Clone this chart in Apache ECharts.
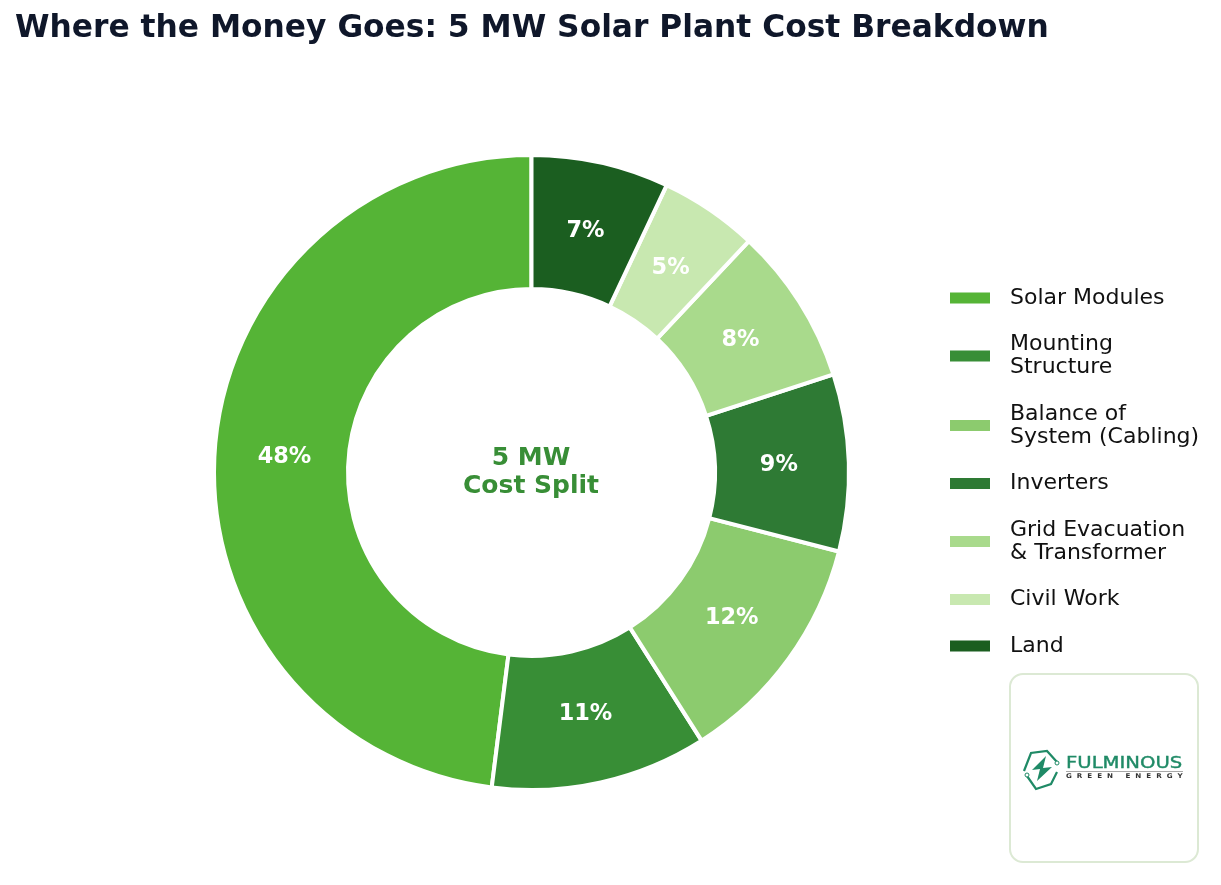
<!DOCTYPE html>
<html>
<head>
<meta charset="utf-8">
<title>5 MW Solar Plant Cost Breakdown</title>
<style>
  html, body { margin: 0; padding: 0; background: #ffffff; }
  #chart { width: 1221px; height: 885px; }
</style>
<script src="https://cdn.jsdelivr.net/npm/echarts@6/dist/echarts.min.js"></script>
</head>
<body>
<div id="chart"></div>
<script>
  const chartTitle = 'Where the Money Goes: 5 MW Solar Plant Cost Breakdown';
  const centerCaption = '5 MW\nCost Split';
  const categories = [
    'Solar Modules',
    'Mounting\nStructure',
    'Balance of\nSystem (Cabling)',
    'Inverters',
    'Grid Evacuation\n& Transformer',
    'Civil Work',
    'Land'
  ];
  const shares = [48, 11, 12, 9, 8, 5, 7];
  const sliceColors = ['#55b436', '#388e36', '#8ccb6e', '#2e7a34', '#a9da8c', '#c8e8b0', '#1b5e20'];

  const font = '"DejaVu Sans", sans-serif';
  const logoGreen = '#1f8a66';
  const pieCenter = [531.5, 472.5];
  const labelInset = 6;

  // Caption in the hole of the ring.
  const caption = {
    type: 'text', x: 531, y: 472.5,
    style: { text: centerCaption, font: 'bold 25px "DejaVu Sans", sans-serif', fill: '#388e36',
             textAlign: 'center', textVerticalAlign: 'middle', lineHeight: 28 }
  };

  // Company mark: hexagon outline with circuit dots, a bolt, and the wordmark.
  const logo = [
    { type: 'rect', shape: { x: 1010, y: 674, width: 188, height: 188, r: 13 },
      style: { fill: '#ffffff', stroke: '#dce9d4', lineWidth: 2 } },
    { type: 'polyline', shape: { points: [[1057, 762], [1047, 751], [1031, 753], [1024, 771]] },
      style: { fill: null, stroke: logoGreen, lineWidth: 2.2 } },
    { type: 'polyline', shape: { points: [[1027, 776], [1036, 789], [1051, 784], [1057, 772]] },
      style: { fill: null, stroke: logoGreen, lineWidth: 2.2 } },
    { type: 'circle', shape: { cx: 1057, cy: 763, r: 2 },
      style: { fill: '#ffffff', stroke: logoGreen, lineWidth: 1 } },
    { type: 'circle', shape: { cx: 1027, cy: 775, r: 2 },
      style: { fill: '#ffffff', stroke: logoGreen, lineWidth: 1 } },
    { type: 'polygon', shape: { points: [[1046, 756], [1032, 770], [1040, 769], [1037, 781], [1052, 767], [1043, 768]] },
      style: { fill: logoGreen } },
    { type: 'text', x: 1066, y: 763.5, scaleX: 1.19,
      style: { text: 'FULMINOUS', font: '16.5px "DejaVu Sans", sans-serif', fill: logoGreen,
               stroke: logoGreen, lineWidth: 0.4, textAlign: 'left', textVerticalAlign: 'middle' } },
    { type: 'line', shape: { x1: 1066, y1: 771.5, x2: 1183, y2: 771.5 },
      style: { stroke: '#a8a8a8', lineWidth: 1 } },
    { type: 'text', x: 1066, y: 776.5, scaleX: 1.1,
      style: { text: 'G  R  E  E  N     E  N  E  R  G  Y', font: 'bold 6.5px "DejaVu Sans", sans-serif', fill: '#333333',
               textAlign: 'left', textVerticalAlign: 'middle' } }
  ];

  const chart = echarts.init(document.getElementById('chart'), null, { renderer: 'canvas' });
  chart.setOption({
    animation: false,
    backgroundColor: '#ffffff',
    title: {
      text: chartTitle,
      left: 15,
      top: 13,
      padding: 0,
      textStyle: { fontFamily: font, fontSize: 31.3, fontWeight: 'bold', color: '#0f172a' }
    },
    legend: {
      orient: 'vertical',
      left: 950,
      top: 286.5,
      padding: 0,
      itemWidth: 40,
      itemHeight: 11,
      itemGap: 23.5,
      icon: 'rect',
      selectedMode: false,
      itemStyle: { borderWidth: 0 },
      textStyle: {
        fontFamily: font,
        fontSize: 22,
        lineHeight: 23,
        color: '#111111',
        padding: [0, 0, 0, 15]
      }
    },
    series: [{
      type: 'pie',
      center: pieCenter,
      radius: [183.5, 317.5],
      startAngle: 90,
      clockwise: false,
      avoidLabelOverlap: false,
      silent: true,
      itemStyle: { borderColor: '#ffffff', borderWidth: 4 },
      label: {
        position: 'inside',
        formatter: '{c}%',
        fontFamily: font,
        fontSize: 22.4,
        fontWeight: 'bold',
        color: '#ffffff'
      },
      // Pull each percentage slightly towards the hole along its own radius.
      labelLayout(params) {
        const r = params.labelRect;
        const vx = r.x + r.width / 2 - pieCenter[0];
        const vy = r.y + r.height / 2 - pieCenter[1];
        const len = Math.hypot(vx, vy);
        return { dx: -labelInset * vx / len, dy: -labelInset * vy / len };
      },
      labelLine: { show: false },
      data: categories.map((name, i) => ({
        name,
        value: shares[i],
        itemStyle: { color: sliceColors[i] }
      }))
    }],
    graphic: [caption].concat(logo)
  });
</script>
</body>
</html>
